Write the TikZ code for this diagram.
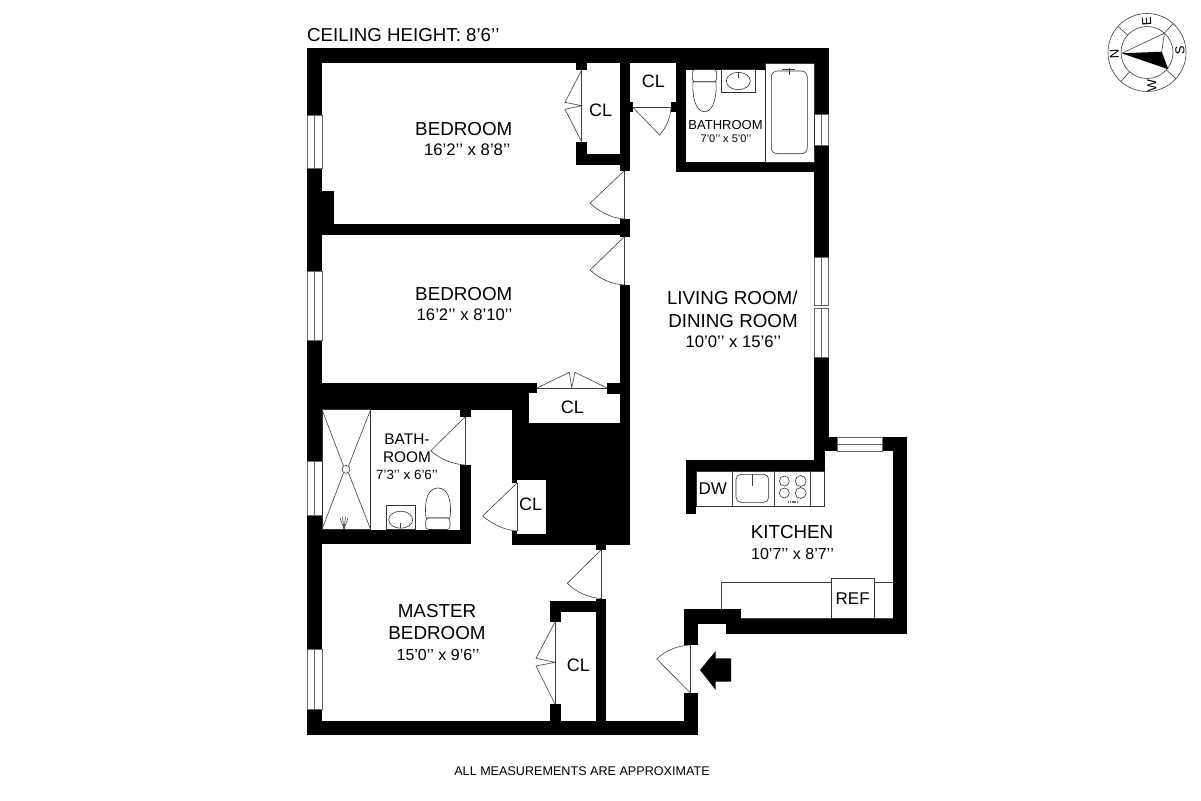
\documentclass[tikz,border=0pt]{standalone}
\usepackage{fontspec}
\setmainfont{Liberation Sans}
\usetikzlibrary{positioning}

\newcommand{\inch}{'\kern0pt'}

\tikzset{
  wall/.style={fill=black},
  cut/.style={fill=white},
  thin line/.style={draw=black!75,line width=0.6pt},
  window/.style={draw=black!60,fill=white,line width=0.5pt},
  fixture/.style={draw=black!80,fill=white,line width=0.6pt},
  room/.style={inner sep=0pt,font=\fontsize{18.8}{20}\selectfont},
  size/.style={inner sep=0pt,font=\fontsize{16.7}{18}\selectfont},
  short size/.style={inner sep=0pt,font=\fontsize{16}{18}\selectfont},
  small room/.style={inner sep=0pt,font=\fontsize{15.4}{17}\selectfont},
  small size/.style={inner sep=0pt,font=\fontsize{13.4}{14}\selectfont},
  closet/.style={inner sep=0pt,font=\fontsize{18}{18}\selectfont},
  appliance/.style={inner sep=0pt,font=\fontsize{17}{18}\selectfont},
  compass letter/.style={inner sep=0pt,rotate=93,font=\fontsize{13}{13}\selectfont},
}

\begin{document}
\begin{tikzpicture}[x=1pt,y=-1pt]

\useasboundingbox (0,0) rectangle (1201,800);
\fill [white] (0,0) rectangle (1201,800);

% -------- outer walls -----------
\fill [wall] (307,48) rectangle (829,63);
\fill [wall] (307,48) rectangle (322,115);
\fill [wall] (307,168) rectangle (322,271);
\fill [wall] (307,340) rectangle (322,461);
\fill [wall] (307,515) rectangle (322,649);
\fill [wall] (307,709) rectangle (322,735);
\fill [wall] (307,721) rectangle (698,735);
\fill [wall] (684,693) rectangle (698,735);
\fill [wall] (814,48) rectangle (829,114);
\fill [wall] (814,145) rectangle (829,257);
\fill [wall] (814,357) rectangle (829,451);
\fill [wall] (814,437) rectangle (837,451);
\fill [wall] (814,451) rectangle (824.5,471);
\fill [wall] (882,437) rectangle (907,451);
\fill [wall] (892.5,437) rectangle (907,634);
\fill [wall] (726,618.5) rectangle (907,634);
\fill [wall] (684,609) rectangle (741,624);
\fill [wall] (684,609) rectangle (698,645);
\fill [wall] (686,460) rectangle (824.5,471);
\fill [wall] (686,460) rectangle (696,513.5);

% -------- inner walls -----------
\fill [wall] (322,191) rectangle (334,234);
\fill [wall] (322,224) rectangle (629.5,234.5);
\fill [wall] (619.5,219) rectangle (629.5,237);
\fill [wall] (619.5,63) rectangle (629.5,171);
\fill [wall] (629.5,102) rectangle (633,112);
\fill [wall] (576,63) rectangle (587,70);
\fill [wall] (576,142) rectangle (587,164.5);
\fill [wall] (576,154) rectangle (620,164.5);
\fill [wall] (675.5,63) rectangle (686,172);
\fill [wall] (671,102) rectangle (676,112);
\fill [wall] (675.5,162) rectangle (814,172);
\fill [wall] (686,63) rectangle (765,69.5);
\fill [wall] (619.5,285) rectangle (629.5,423);
\fill [wall] (322,383) rectangle (537,393);
\fill [wall] (322,383) rectangle (512,409.5);
\fill [wall] (607,383) rectangle (620,393.5);
\fill [wall] (512,383) rectangle (529,423);
\fill [wall] (512,422.5) rectangle (629.5,545);
\fill [wall] (460,409) rectangle (470.5,417);
\fill [wall] (460,465) rectangle (470.5,544);
\fill [wall] (322,529.5) rectangle (470.5,544);
\fill [wall] (596,545) rectangle (606,550);
\fill [wall] (550,601) rectangle (606,611.5);
\fill [wall] (550,601) rectangle (561,622);
\fill [wall] (550,704) rectangle (561,721);
\fill [wall] (596,598.5) rectangle (606,721);

% -------- closet cut out of the mass -----------
\fill [cut] (512,483) rectangle (546,531);
\fill [cut] (517,479.5) rectangle (546,534);

% -------- windows -----------
\draw [window] (307.5,115) rectangle (322,168);
\draw [thin line,draw=black!60] (314.7,115) -- (314.7,168);
\draw [window] (307.5,271) rectangle (322,340);
\draw [thin line,draw=black!60] (314.7,271) -- (314.7,340);
\draw [window] (307.5,461) rectangle (322,515);
\draw [thin line,draw=black!60] (314.7,461) -- (314.7,515);
\draw [window] (307.5,649) rectangle (322,709);
\draw [thin line,draw=black!60] (314.7,649) -- (314.7,709);
\draw [window] (814,114) rectangle (828.5,145);
\draw [thin line,draw=black!60] (821,114) -- (821,145);
\draw [window] (814,257) rectangle (828.5,305);
\draw [thin line,draw=black!60] (821,257) -- (821,305);
\draw [window] (814,308) rectangle (828.5,357);
\draw [thin line,draw=black!60] (821,308) -- (821,357);
\draw [window] (837,437) rectangle (882,451);
\draw [thin line,draw=black!60] (837,444) -- (882,444);

% -------- doors -----------
\draw [thin line] (624,171) -- (624,219);
\draw [thin line] (624,171) -- (590,203.3) .. controls (600,212) and (611,218) .. (624,219);
\draw [thin line] (624,237) -- (624,285);
\draw [thin line] (624,237) -- (590,270) .. controls (600,279) and (611,284) .. (624,285);
\draw [thin line] (633,107.5) -- (671,107.5);
\draw [thin line] (633,107.5) -- (659.5,135) .. controls (666,128) and (670.5,118) .. (671,107.5);
\draw [thin line] (465,417) -- (465,465);
\draw [thin line] (465,417) -- (430.7,450.7) .. controls (440,459) and (452,464) .. (465,465);
\draw [thin line] (517,483) -- (517,531);
\draw [thin line] (517,483) -- (482.7,516) .. controls (492,524) and (504,530) .. (517,531);
\draw [thin line] (601,550) -- (601,598.5);
\draw [thin line] (601,550) -- (567.3,583.3) .. controls (576,592) and (588,597.5) .. (601,598.5);
\draw [thin line] (690.5,645) -- (690.5,693);
\draw [thin line] (690.5,693) -- (656.7,659) .. controls (665,651) and (677,645.5) .. (690.5,645);

% -------- closet doors -----------
\draw [thin line] (581.7,70) -- (581.7,142);
\draw [thin line] (581.7,70) -- (565,102.3) -- (581.7,105.7) -- (565,109.3) -- (581.7,142);
\draw [thin line] (537,388) -- (607,388);
\draw [thin line] (537,388) -- (569.3,372.3) -- (571.7,387.5) -- (575,372.3) -- (607,388);
\draw [thin line] (555,622) -- (555,704);
\draw [thin line] (555,622) -- (536,658.3) -- (555,662.3) -- (536,666) -- (555,704);

% -------- top bathroom -----------
\draw [fixture] (765,63) rectangle (814,162);
\draw [fixture,rounded corners=6pt] (771.3,71) rectangle (807.3,153.7);
\draw [thin line] (782,69.5) -- (795,69.5);
\draw [thin line] (789,68) -- (789,75);
\draw [fixture] (721.7,69.5) rectangle (755,92.7);
\draw [fixture] (738.3,81) ellipse [x radius=12,y radius=8.7];
\draw [thin line] (738.3,72) -- (738.3,77.5);
\draw [fixture] (693,81.7) .. controls (692,95) and (695,111.7) .. (704.5,111.7) .. controls (714,111.7) and (717,95) .. (716,81.7) -- cycle;
\draw [fixture,rounded corners=3pt] (692.3,69.5) rectangle (716.7,81.7);

% -------- lower bathroom -----------
\draw [fixture] (322,409.5) rectangle (370.7,529.5);
\draw [thin line] (322,409.5) -- (343.5,466);
\draw [thin line] (370.7,409.5) -- (348.5,466);
\draw [thin line] (322,529.5) -- (343.5,473);
\draw [thin line] (370.7,529.5) -- (348.5,473);
\draw [fixture] (346,469.3) circle (4);
\draw [thin line] (344,529) -- (340,518);
\draw [thin line] (344,529) -- (342.5,517);
\draw [thin line] (344,529) -- (345.5,517);
\draw [thin line] (344,529) -- (348,518);
\draw [fixture] (386,505) rectangle (415,529.5);
\draw [fixture] (400.7,519.7) ellipse [x radius=12,y radius=8.5];
\draw [thin line] (400.7,523) -- (400.7,528);
\draw [fixture] (426,518) .. controls (424,500) and (428,488) .. (438,488) .. controls (448,488) and (452,500) .. (450,518) -- cycle;
\draw [fixture,rounded corners=3pt] (425.7,518) rectangle (450,529.5);

% -------- kitchen -----------
\draw [fixture] (696,471) rectangle (824.5,506.3);
\draw [thin line] (732.3,471) -- (732.3,506.3);
\draw [thin line] (774.3,471) -- (774.3,506.3);
\draw [thin line] (810.3,471) -- (810.3,506.3);
\draw [fixture,rounded corners=5pt] (736,474.3) rectangle (768.7,502.3);
\draw [thin line] (752,474.3) -- (752,486);
\draw [fixture] (784.3,481) circle (5);
\draw [fixture] (800.7,481) circle (5.5);
\draw [fixture] (784.3,493) circle (5);
\draw [fixture] (800.7,493) circle (5.5);
\draw [draw=black!60,line width=1.6pt,dash pattern=on 1.5pt off 0.7pt] (787.7,502) -- (798.3,502);
\draw [thin line] (721.3,609) -- (721.3,582.3) -- (892.5,582.3);
\draw [thin line] (741,618.5) -- (892.5,618.5);
\draw [fixture] (831,578.3) rectangle (874.3,618.5);

% -------- entry arrow -----------
\fill [black] (700,670) -- (715.7,651) -- (715.7,658.3) -- (731,658.3) -- (731,681.7) -- (715.7,681.7) -- (715.7,690) -- cycle;

% -------- labels -----------
\node [room,anchor=west,font=\fontsize{18.7}{18}\selectfont] (ceiling) at (307,35) {CEILING HEIGHT: 8'6\inch};
\node [room] (bedA) at (463.8,129) {BEDROOM};
\node [size] (bedAsize) at (467.3,150) {16'2\inch{} x 8'8\inch};
\node [room] (bedB) at (463.8,294) {BEDROOM};
\node [size] (bedBsize) at (464.5,315) {16'2\inch{} x 8'10\inch};
\node [room] (livingA) at (732.3,298) {LIVING ROOM/};
\node [room] (livingB) at (733,320.7) {DINING ROOM};
\node [size] (livingsize) at (733.3,342) {10'0\inch{} x 15'6\inch};
\node [room] (kitchen) at (792,532.5) {KITCHEN};
\node [short size] (kitchensize) at (792.5,553.5) {10'7\inch{} x 8'7\inch};
\node [room] (masterA) at (437,611) {MASTER};
\node [room] (masterB) at (437,633) {BEDROOM};
\node [short size] (mastersize) at (438,655) {15'0\inch{} x 9'6\inch};
\node [small room] (bathA) at (407,439) {BATH-};
\node [small room] (bathB) at (407,457) {ROOM};
\node [small size] (bathsize) at (407,475) {7'3\inch{} x 6'6\inch};
\node [inner sep=0pt,font=\fontsize{13}{14}\selectfont] (bathtop) at (725.5,125) {BATHROOM};
\node [inner sep=0pt,font=\fontsize{11}{12}\selectfont] (bathtopsize) at (726,139) {7'0\inch{} x 5'0\inch};
\node [closet] (clA) at (600.7,110) {CL};
\node [closet] (clB) at (653.3,81) {CL};
\node [closet] (clC) at (572.3,407.7) {CL};
\node [closet] (clD) at (530.7,504.3) {CL};
\node [closet] (clE) at (578.3,665) {CL};
\node [appliance] (ref) at (852.7,599) {REF};
\node [appliance] (dw) at (712.7,488.3) {DW};
\node [inner sep=0pt,font=\fontsize{12.6}{13}\selectfont] (note) at (582,771) {ALL MEASUREMENTS ARE APPROXIMATE};

% -------- compass -----------
\draw [thin line,fill=white] (1147,52.5) circle (39);
\draw [thin line] (1147,52.5) circle (26);
\draw [thin line] (1127.7,35.1) -- (1118,26.4);
\draw [thin line] (1164.4,33.2) -- (1173.1,23.5);
\draw [thin line] (1166.3,69.9) -- (1176,78.6);
\draw [thin line] (1129.6,71.8) -- (1120.9,81.5);
\draw [thin line] (1121.7,53.3) -- (1164.4,33.2) -- (1161.7,51.7);
\fill [black] (1121.7,53.3) -- (1161.7,51.7) -- (1168.3,69.3) -- cycle;
\node [compass letter] (north) at (1114.5,54.5) {N};
\node [compass letter] (east) at (1146.7,21.7) {E};
\node [compass letter] (south) at (1180,50.7) {S};
\node [compass letter] (west) at (1151.7,86) {W};

\end{tikzpicture}
\end{document}
